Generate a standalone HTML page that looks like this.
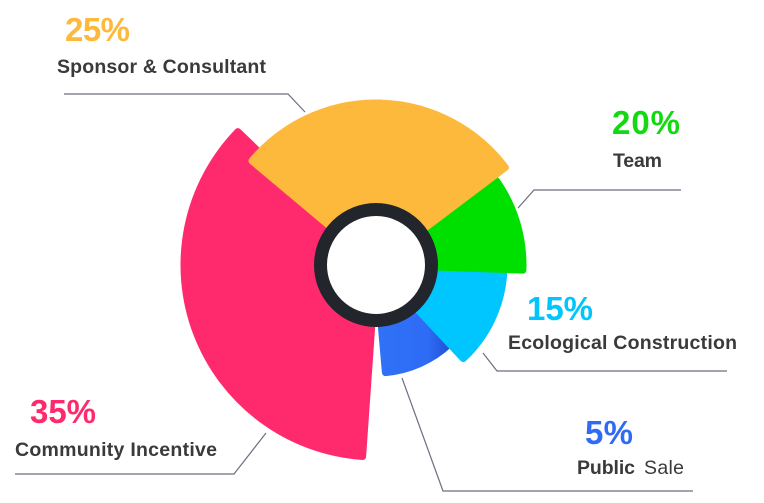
<!DOCTYPE html>
<html><head><meta charset="utf-8"><style>
html,body{margin:0;padding:0;background:#fff;}
svg{display:block;}
text{font-family:"Liberation Sans",Arial,sans-serif;font-weight:bold;}
.lbl{fill:#3a3a3c;font-size:19.5px;}
.pct{font-size:33px;}
.ln{fill:none;stroke:#6b6f80;stroke-width:1.2;}
</style></head><body>
<svg id="s" width="764" height="503" viewBox="0 0 764 503" xmlns="http://www.w3.org/2000/svg">
<defs>
<linearGradient id="bg" x1="0" y1="0" x2="1" y2="0">
<stop offset="0" stop-color="#2F72F7"/><stop offset="0.7" stop-color="#2F6BF5"/><stop offset="1" stop-color="#1F52D8"/>
</linearGradient>
</defs>
<g id="sec"></g>
<circle cx="376" cy="265" r="55.5" fill="#fff" stroke="#22252c" stroke-width="13"/>
<text class="pct" x="65" y="41" fill="#FDB93C" textLength="65">25%</text>
<text class="lbl" x="57" y="73" textLength="209">Sponsor &amp; Consultant</text>
<polyline class="ln" points="64,94 288,94 305,112"/>
<text class="pct" x="612" y="134" fill="#12D912" textLength="68">20%</text>
<text class="lbl" x="613" y="167" textLength="49">Team</text>
<polyline class="ln" points="518,208 534,190 681,190"/>
<text class="pct" x="527" y="320" fill="#00C6FF" textLength="66">15%</text>
<text class="lbl" x="508" y="349" textLength="229">Ecological Construction</text>
<polyline class="ln" points="483,353 497,371 727,371"/>
<text class="pct" x="585" y="444" fill="#2F6BF5" textLength="48">5%</text>
<text class="lbl" x="577" y="474" textLength="58">Public</text>
<text class="lbl" x="644" y="474" style="font-weight:normal" textLength="40">Sale</text>
<polyline class="ln" points="402,378 443,491 693,491"/>
<text class="pct" x="30" y="423" fill="#FF2A6D" textLength="66">35%</text>
<text class="lbl" x="15" y="456" textLength="202">Community Incentive</text>
<polyline class="ln" points="15,474 234,474 266,433"/>
</svg>
<script>
var cx=376,cy=265;
function P(a,r){var t=a*Math.PI/180;return (cx+r*Math.sin(t)).toFixed(2)+","+(cy-r*Math.cos(t)).toFixed(2);}
function sec(a0,a1,r,col){
 var d="M"+cx+","+cy+" L"+P(a0,r)+" A"+r+","+r+" 0 "+((a1-a0)>180?1:0)+" 1 "+P(a1,r)+" Z";
 var p=document.createElementNS("http://www.w3.org/2000/svg","path");
 p.setAttribute("d",d);p.setAttribute("fill",col);p.setAttribute("stroke",col);
 p.setAttribute("stroke-width","7");p.setAttribute("stroke-linejoin","round");
 document.getElementById("sec").appendChild(p);
}
sec(184,314,192,"#FF2A6D");
sec(137,175,108,"url(#bg)");
sec(94,137,128,"#00C6FF");
sec(55,92,147,"#00E000");
sec(310,413,162,"#FDB93C");
</script>
</body></html>
